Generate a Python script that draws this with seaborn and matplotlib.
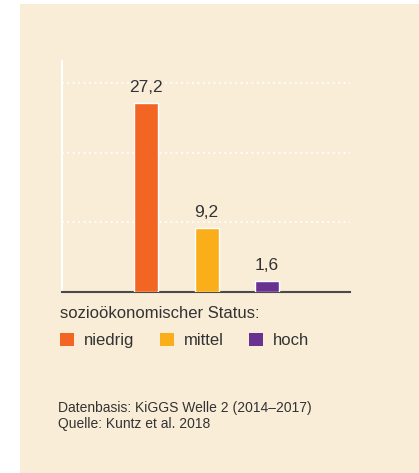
import matplotlib
matplotlib.use('Agg')
from matplotlib import pyplot as plt
from matplotlib.patches import Rectangle, Patch
import seaborn as sns

status = ['niedrig', 'mittel', 'hoch']
anteil = [27.2, 9.2, 1.6]
farben = ['#F26522', '#F9AE1A', '#6A3290']
legend_title = 'sozioökonomischer Status:'
footer = ['Datenbasis: KiGGS Welle 2 (2014–2017)', 'Quelle: Kuntz et al. 2018']

BG = '#F9EDD8'
TEXT = '#333333'
W, H = 419, 473

sns.set_style('white')
plt.rcParams['font.family'] = ['Liberation Sans', 'DejaVu Sans']

fig = plt.figure(figsize=(W / 100, H / 100), dpi=100, facecolor='white')
fig.patches.append(Rectangle((20 / W, 0), 1 - 20 / W, 1 - 4 / H,
                             transform=fig.transFigure, facecolor=BG,
                             edgecolor='none', zorder=-10))

ax = fig.add_axes([62 / W, 1 - 292 / H, 288 / W, 231 / H])
ax.set_facecolor('none')

sns.barplot(x=status, y=anteil, hue=status, palette=farben, width=0.4,
            legend=False, ax=ax, saturation=1, zorder=3)

ax.set_xlim(-1.39, 3.37)
ax.set_ylim(0, 33.2)
ax.set_yticks([10, 20, 30])
ax.set_xticks([])
ax.tick_params(left=False, labelleft=False)
ax.yaxis.grid(True, color='white', linestyle=(0, (1, 2)), linewidth=1.3)
ax.set_axisbelow(True)

for side in ['top', 'right']:
    ax.spines[side].set_visible(False)
ax.spines['left'].set_color('white')
ax.spines['left'].set_linewidth(1.5)
ax.spines['bottom'].set_color('#4a4a4a')
ax.spines['bottom'].set_linewidth(1.5)

for i, v in enumerate(anteil):
    ax.text(i, v + 1.58, f'{v:.1f}'.replace('.', ','), ha='center', va='baseline',
            fontsize=12.5, color=TEXT)

fig.text(60 / W, 1 - 318 / H, legend_title, fontsize=12, color=TEXT,
         ha='left', va='baseline')

handles = [Patch(facecolor=c, edgecolor='none') for c in farben]
fig.legend(handles, status, loc='upper left', ncol=3, frameon=False,
           bbox_to_anchor=(60 / W, 1 - 333 / H), borderpad=0, borderaxespad=0,
           handlelength=0.85, handleheight=0.85, handletextpad=0.6,
           columnspacing=1.5, labelcolor=TEXT, prop={'size': 12})

fig.text(58 / W, 1 - 411.7 / H, footer[0], fontsize=10, color=TEXT,
         ha='left', va='baseline')
fig.text(58 / W, 1 - 427.7 / H, footer[1], fontsize=10, color=TEXT,
         ha='left', va='baseline')

fig.savefig('out.png', dpi=100, facecolor=fig.get_facecolor())
